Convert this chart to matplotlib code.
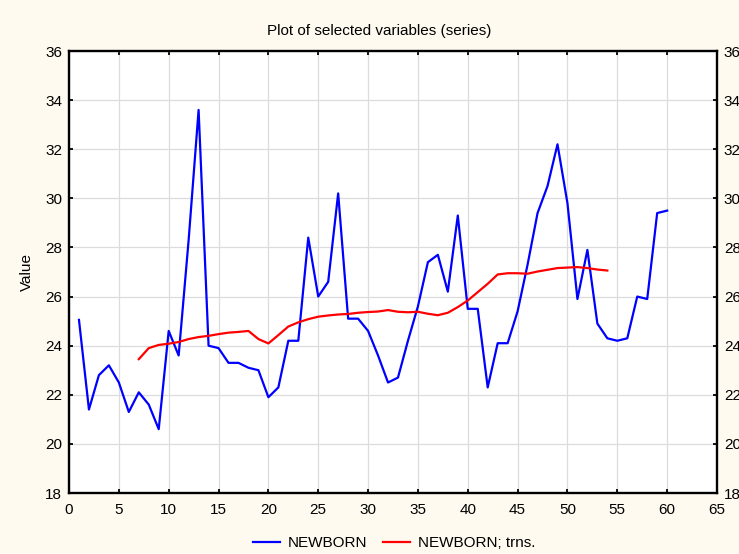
import matplotlib
matplotlib.use("Agg")
import matplotlib.pyplot as plt

# Donnees
x_newborn = list(range(1, 61))
newborn = [25.05, 21.4, 22.8, 23.2, 22.5, 21.3, 22.1, 21.6, 20.6, 24.6,
           23.6, 28.3, 33.6, 24.0, 23.9, 23.3, 23.3, 23.1, 23.0, 21.9,
           22.3, 24.2, 24.2, 28.4, 26.0, 26.6, 30.2, 25.1, 25.1, 24.6,
           23.6, 22.5, 22.7, 24.2, 25.6, 27.4, 27.7, 26.2, 29.3, 25.5,
           25.5, 22.3, 24.1, 24.1, 25.4, 27.3, 29.4, 30.5, 32.2, 29.8,
           25.9, 27.9, 24.9, 24.3, 24.2, 24.3, 26.0, 25.9, 29.4, 29.5]

x_trns = list(range(7, 55))
trns = [23.45, 23.9, 24.03, 24.08, 24.15, 24.27, 24.35, 24.4, 24.47, 24.53,
        24.56, 24.6, 24.27, 24.09, 24.43, 24.78, 24.95, 25.08, 25.18, 25.23,
        25.27, 25.29, 25.34, 25.37, 25.39, 25.45, 25.38, 25.36, 25.38, 25.3,
        25.24, 25.34, 25.57, 25.84, 26.18, 26.52, 26.9, 26.95, 26.95, 26.93,
        27.02, 27.09, 27.16, 27.18, 27.2, 27.16, 27.1, 27.06]

x_ticks = list(range(0, 70, 5))
y_ticks = list(range(18, 38, 2))

plt.rcParams["font.family"] = ["Liberation Sans", "DejaVu Sans"]

fig = plt.figure(figsize=(7.39, 5.54), dpi=100, facecolor="#FFFAF0")
ax = fig.add_axes([69 / 739, 1 - 493 / 554, 648 / 739, 442 / 554])
ax.set_facecolor("white")

ax.plot(x_newborn, newborn, color="#0000FF", lw=1.6, label="NEWBORN")
ax.plot(x_trns, trns, color="#FF0000", lw=1.6, label="NEWBORN; trns.")

ax.set_xlim(0, 65)
ax.set_ylim(18, 36)
ax.set_xticks(x_ticks)
ax.set_yticks(y_ticks)
ax.grid(True, color="#DCDCDC", lw=0.9)
ax.set_axisbelow(True)

for side in ax.spines.values():
    side.set_linewidth(1.7)
    side.set_color("black")

ax.tick_params(direction="in", length=3, width=1.3, labelsize=11,
               top=True, right=True, labelright=True, pad=5)
ax.tick_params(axis="x", pad=7)
ax.set_ylabel("Value", fontsize=11, labelpad=8)

fig.text(379 / 739, 1 - 31 / 554, "Plot of selected variables (series)",
         ha="center", va="center", fontsize=11)

fig.legend(loc="center", bbox_to_anchor=(394 / 739, 1 - 543 / 554), ncol=2,
           frameon=False, fontsize=11, handlelength=1.8, columnspacing=1.0,
           handletextpad=0.5)

fig.savefig("out.png", dpi=100, facecolor=fig.get_facecolor())
